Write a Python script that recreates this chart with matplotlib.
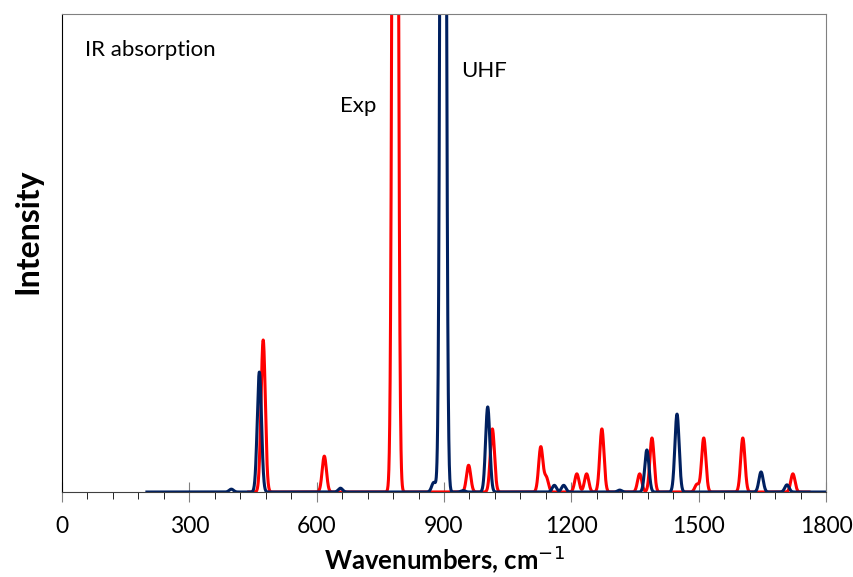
import numpy as np
import matplotlib.pyplot as plt
from matplotlib.ticker import MultipleLocator

# peak positions (cm-1) and heights (% of axis height)
exp_pos = [474, 618, 785, 958, 1014, 1128, 1141, 1213, 1236, 1272, 1361, 1390, 1496, 1512, 1604, 1722]
exp_int = [31.8, 7.5, 400, 5.6, 13.2, 9.4, 3.0, 3.8, 3.8, 13.2, 3.8, 11.3, 1.6, 11.3, 11.3, 3.8]
uhf_pos = [399, 465, 656, 876, 898, 945, 1003, 1160, 1182, 1314, 1378, 1449, 1647, 1708]
uhf_int = [0.6, 25.1, 0.8, 2.0, 400, 0.3, 17.8, 1.4, 1.4, 0.4, 8.8, 16.3, 4.2, 1.5]
exp_range = (440, 1760)
uhf_range = (200, 1800)
width = 5.0  # gaussian sigma, cm-1


def spectrum(pos, amp, lo, hi):
    x = np.linspace(lo, hi, 4000)
    y = np.zeros_like(x)
    for p, a in zip(pos, amp):
        y += a * np.exp(-0.5 * ((x - p) / width) ** 2)
    return x, y


plt.rcParams['font.family'] = ['Lato', 'DejaVu Sans']

fig = plt.figure(figsize=(8.54, 5.77), dpi=100)
ax = fig.add_axes([0.0726, 0.1473, 0.8946, 0.8284])

xe, ye = spectrum(exp_pos, exp_int, *exp_range)
xu, yu = spectrum(uhf_pos, uhf_int, *uhf_range)
ax.plot(xe, ye, color='#FF0000', lw=2.2)
ax.plot(xu, yu, color='#002060', lw=2.2)

ax.set_xlim(0, 1800)
ax.set_ylim(0, 100)
ax.xaxis.set_major_locator(MultipleLocator(300))
ax.xaxis.set_minor_locator(MultipleLocator(60))
ax.tick_params(axis='x', which='major', direction='inout', length=14, color='#808080',
               labelsize=16.5, pad=10)
ax.tick_params(axis='x', which='minor', direction='out', length=5, color='black')
ax.set_yticks([])

ax.spines['left'].set_color('black')
ax.spines['bottom'].set_color('#404040')
for s in ['top', 'right']:
    ax.spines[s].set_color('#808080')

ax.set_xlabel('Wavenumbers, cm$^{-1}$', fontsize=18.5, fontweight='bold', labelpad=5)
ax.set_ylabel('Intensity', fontsize=23, fontweight='bold')
ax.yaxis.set_label_coords(-0.026, 0.546)

ax.text(0.03, 0.925, 'IR absorption', transform=ax.transAxes, fontsize=16, va='center')
ax.text(0.364, 0.808, 'Exp', transform=ax.transAxes, fontsize=16, va='center')
ax.text(0.523, 0.88, 'UHF', transform=ax.transAxes, fontsize=16, va='center')

fig.savefig('out.png', dpi=100)
